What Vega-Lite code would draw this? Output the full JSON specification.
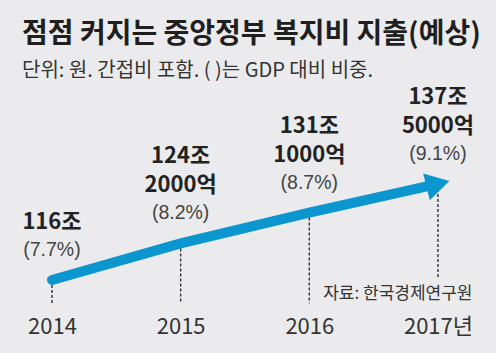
{
  "$schema": "https://vega.github.io/schema/vega-lite/v6.json",
  "width": 496,
  "height": 225,
  "autosize": {"type": "none"},
  "padding": {"top": 85, "left": 0, "right": 0, "bottom": 43},
  "background": "#ebebed",
  "config": {"view": {"stroke": null}},
  "title": {
    "text": "점점 커지는 중앙정부 복지비 지출(예상)",
    "subtitle": "단위: 원. 간접비 포함. ( )는 GDP 대비 비중.",
    "anchor": "start",
    "frame": "group",
    "dx": 22,
    "offset": 4,
    "font": "Noto Sans CJK KR",
    "fontSize": 28,
    "fontWeight": "bold",
    "color": "#1f1f1f",
    "subtitleFont": "Noto Sans CJK KR",
    "subtitleFontSize": 20,
    "subtitleColor": "#333333",
    "subtitlePadding": 12
  },
  "data": {
    "values": [
      {"year": 2014, "value": 116.0, "main": ["116조"], "pct": "(7.7%)"},
      {"year": 2015, "value": 124.2, "main": ["124조", "2000억"], "pct": "(8.2%)"},
      {"year": 2016, "value": 131.1, "main": ["131조", "1000억"], "pct": "(8.7%)"},
      {"year": 2017, "value": 137.5, "main": ["137조", "5000억"], "pct": "(9.1%)"}
    ]
  },
  "encoding": {
    "x": {
      "field": "year",
      "type": "quantitative",
      "scale": {"domain": [2013.596, 2017.451], "nice": false, "zero": false},
      "axis": {
        "values": [2014, 2015, 2016, 2017],
        "format": "d",
        "labelExpr": "datum.value == 2017 ? '2017년' : datum.label",
        "grid": false,
        "domain": false,
        "ticks": false,
        "labelFont": "Liberation Sans Narrow, Noto Sans CJK KR",
        "labelFontSize": 22,
        "labelColor": "#333333",
        "labelPadding": 6,
        "labelFlush": false,
        "title": "자료: 한국경제연구원",
        "titleFont": "Noto Sans CJK KR",
        "titleFontSize": 17,
        "titleFontWeight": "normal",
        "titleColor": "#333333",
        "titleAlign": "right",
        "titleBaseline": "middle",
        "titleX": 472,
        "titleY": -17
      }
    },
    "y": {
      "field": "value",
      "type": "quantitative",
      "scale": {"domain": [109.28, 159.67], "nice": false, "zero": false},
      "axis": null
    }
  },
  "layer": [
    {
      "transform": [{"filter": "datum.year < 2017"}],
      "mark": {"type": "rule", "color": "#333333", "strokeDash": [3, 2], "strokeWidth": 1.4},
      "encoding": {"y2": {"datum": 110.8}}
    },
    {
      "transform": [{"filter": "datum.year == 2017"}],
      "mark": {"type": "rule", "color": "#333333", "strokeDash": [3, 2], "strokeWidth": 1.4},
      "encoding": {"y2": {"datum": 116.5}}
    },
    {
      "mark": {"type": "line", "color": "#0c96cf", "strokeWidth": 10, "strokeCap": "round"}
    },
    {
      "transform": [{"filter": "datum.year == 2017"}],
      "mark": {"type": "point", "shape": "triangle-right", "filled": true, "color": "#0c96cf", "opacity": 1, "size": 750, "angle": -14}
    },
    {
      "transform": [{"filter": "length(datum.main) == 1"}],
      "mark": {"type": "text", "font": "Liberation Sans Narrow, Noto Sans CJK KR", "fontSize": 22, "fontWeight": "bold", "color": "#222222", "baseline": "bottom", "dy": -46, "lineHeight": 29, "align": "center"},
      "encoding": {"text": {"field": "main"}}
    },
    {
      "transform": [{"filter": "length(datum.main) > 1"}],
      "mark": {"type": "text", "font": "Liberation Sans Narrow, Noto Sans CJK KR", "fontSize": 22, "fontWeight": "bold", "color": "#222222", "baseline": "bottom", "dy": -75, "lineHeight": 29, "align": "center"},
      "encoding": {"text": {"field": "main"}}
    },
    {
      "mark": {"type": "text", "font": "Liberation Sans", "fontSize": 19.5, "color": "#444444", "baseline": "middle", "dy": -30, "align": "center"},
      "encoding": {"text": {"field": "pct"}}
    }
  ]
}
